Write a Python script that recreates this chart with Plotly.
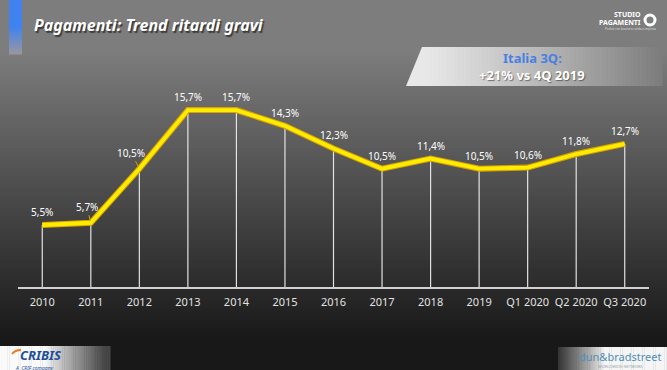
import plotly.graph_objects as go

categories = ["2010", "2011", "2012", "2013", "2014", "2015", "2016", "2017",
              "2018", "2019", "Q1 2020", "Q2 2020", "Q3 2020"]
values = [5.5, 5.7, 10.5, 15.7, 15.7, 14.3, 12.3, 10.5, 11.4, 10.5, 10.6, 11.8, 12.7]
labels = ["5,5%", "5,7%", "10,5%", "15,7%", "15,7%", "14,3%", "12,3%", "10,5%",
          "11,4%", "10,5%", "10,6%", "11,8%", "12,7%"]

W, H = 667, 370
L, R, T, B = 18, 18, 80, 83
PW, PH = W - L - R, H - T - B


def px(x):
    return (x - L) / PW


def py(y):
    return (H - B - y) / PH


def mix(c1, c2, t):
    return "rgb(%d,%d,%d)" % tuple(round(a + (b - a) * t) for a, b in zip(c1, c2))


shapes = []
# background vertical gradient
top_c, bot_c = (125, 125, 125), (24, 24, 24)
step = 4
for y0 in range(0, H, step):
    yc = y0 + step / 2
    t = 0 if yc < 50 else min(1, (yc - 50) / 290)
    shapes.append(dict(type="rect", xref="paper", yref="paper", layer="below",
                       x0=px(-2), x1=px(W + 2), y0=py(y0), y1=py(y0 + step + 0.5),
                       fillcolor=mix(top_c, bot_c, t), line=dict(width=0)))

# blue bar top-left
for y0 in range(0, 54, 2):
    t = 0 if y0 < 26 else min(1, (y0 - 26) / 26)
    shapes.append(dict(type="rect", xref="paper", yref="paper", layer="below",
                       x0=px(9), x1=px(22), y0=py(y0), y1=py(y0 + 2.5),
                       fillcolor=mix((64, 130, 240), (150, 150, 160), t), line=dict(width=0)))

# info box parallelogram with horizontal gradient
bx0, bx1, by0, by1, slant = 422, 662, 47, 86, 16
n = 60
for i in range(n):
    xa = bx0 + (bx1 - bx0) * i / n
    xb = bx0 + (bx1 - bx0) * (i + 1) / n + 0.6
    t = i / (n - 1)
    col = mix((232, 232, 232), (125, 125, 125), t ** 1.1)
    xl = xa - slant if i == 0 else xa
    path = "M %f %f L %f %f L %f %f L %f %f Z" % (
        px(xa), py(by0), px(xb), py(by0), px(xb), py(by1), px(xl), py(by1))
    shapes.append(dict(type="path", xref="paper", yref="paper", layer="below",
                       path=path, fillcolor=col, line=dict(width=0)))

# bottom white bands (logos)
for i in range(60):
    xa = i * 110 / 60
    xb = (i + 1) * 110 / 60 + 0.5
    xc = (xa + xb) / 2
    t = 0 if xc < 45 else min(1, (xc - 45) / 60)
    shapes.append(dict(type="rect", xref="paper", yref="paper", layer="below",
                       x0=px(xa), x1=px(xb), y0=py(346), y1=py(H + 2),
                       fillcolor=mix((250, 250, 250), (70, 70, 70), t ** 0.9), line=dict(width=0)))
for i in range(60):
    xa = 558 + i * 110 / 60
    xb = 558 + (i + 1) * 110 / 60 + 0.5
    xc = (xa + xb) / 2
    t = 0 if xc > 605 else min(1, (605 - xc) / 47)
    shapes.append(dict(type="rect", xref="paper", yref="paper", layer="below",
                       x0=px(xa), x1=px(xb), y0=py(347), y1=py(H + 2),
                       fillcolor=mix((245, 245, 245), (50, 50, 50), t ** 0.9), line=dict(width=0)))

# CRIBIS orange swoosh
shapes.append(dict(type="path", xref="paper", yref="paper",
                   path="M %f %f Q %f %f %f %f" % (px(12), py(354), px(15), py(350), px(21), py(350)),
                   line=dict(color="#f07a20", width=2)))

# Studio Pagamenti ring
shapes.append(dict(type="circle", xref="paper", yref="paper",
                   x0=px(645), x1=px(655), y0=py(15), y1=py(25),
                   line=dict(color="white", width=3)))

# drop lines built from data
drop_x, drop_y = [], []
for c, v in zip(categories, values):
    drop_x += [c, c, None]
    drop_y += [0, v, None]

fig = go.Figure()
fig.add_trace(go.Scatter(x=drop_x, y=drop_y, mode="lines",
                         line=dict(color="rgba(235,235,235,0.95)", width=1.2),
                         hoverinfo="skip", showlegend=False))
fig.add_trace(go.Scatter(x=categories, y=values, mode="lines",
                         line=dict(color="#d9a400", width=6),
                         hoverinfo="skip", showlegend=False))
fig.add_trace(go.Scatter(x=categories, y=values, mode="lines",
                         line=dict(color="#ffec00", width=3.8),
                         showlegend=False))

annotations = []
lab_font = dict(family="Noto Sans", size=10, color="white")
for i, (c, v, lab) in enumerate(zip(categories, values, labels)):
    if c == "2011":
        annotations.append(dict(x=i, y=v, xref="x", yref="y", text=lab, showarrow=True,
                                ax=-4, ay=-16, arrowhead=0, arrowwidth=1,
                                arrowcolor="#d9a400", standoff=2, font=lab_font))
    elif c == "2012":
        annotations.append(dict(x=i, y=v, xref="x", yref="y", text=lab, showarrow=True,
                                ax=-8, ay=-16, arrowhead=0, arrowwidth=1,
                                arrowcolor="#d9a400", standoff=2, font=lab_font))
    else:
        annotations.append(dict(x=i, y=v, xref="x", yref="y", text=lab, showarrow=False,
                                yshift=13, font=lab_font))


def pa(x, y, text, size, color, bold=False, italic=False, family="Noto Sans",
       xanchor="center", shadow=None):
    t = text
    if bold:
        t = "<b>%s</b>" % t
    if italic:
        t = "<i>%s</i>" % t
    font = dict(family=family, size=size, color=color)
    if shadow:
        font["shadow"] = shadow
    return dict(x=px(x), y=py(y), xref="paper", yref="paper", text=t, showarrow=False,
                xanchor=xanchor, yanchor="middle", font=font)


# title
annotations.append(pa(32, 25, "Pagamenti: Trend ritardi gravi", 16, "white",
                      bold=True, italic=True, xanchor="left",
                      shadow="1.5px 1.5px 1px rgba(30,30,30,0.7)"))
# box text
annotations.append(pa(532, 58, "Italia 3Q:", 13, "#4a80e0", bold=True))
annotations.append(pa(532, 75, "+21% vs 4Q 2019", 13, "white", bold=True,
                      shadow="1px 1px 1px rgba(50,50,50,0.6)"))
# studio pagamenti logo
annotations.append(pa(643, 15, "STUDIO", 7, "white", bold=True, xanchor="right"))
annotations.append(pa(643, 22, "PAGAMENTI", 7, "white", bold=True, xanchor="right"))
annotations.append(pa(603, 28.5, "Pocket resi business unibus impresa", 3, "#dddddd", xanchor="left"))
# bottom logos
annotations.append(pa(18, 355, "CRIBIS", 13, "#1d4f9c", bold=True, italic=True, xanchor="left"))
annotations.append(pa(13, 367.5, "A  CRIF company", 5, "#1d4f9c", italic=True, xanchor="left"))
annotations.append(pa(620, 356.5, "dun&amp;bradstreet", 11, "#4f8fb5"))
annotations.append(pa(620, 366.5, "WORLDWIDE NETWORK", 4, "#9aa8b0"))

fig.update_layout(
    width=W, height=H,
    margin=dict(l=L, r=R, t=T, b=B, pad=0),
    paper_bgcolor="#303030",
    plot_bgcolor="rgba(0,0,0,0)",
    shapes=shapes,
    annotations=annotations,
    xaxis=dict(type="category", range=[-0.5, len(categories) - 0.5], showgrid=False,
               showline=True, linecolor="#d0d0d0", linewidth=2, zeroline=False,
               ticks="outside", ticklen=4, tickcolor="rgba(0,0,0,0)",
               tickfont=dict(family="Noto Sans", size=11, color="#e2e2e2"), fixedrange=True),
    yaxis=dict(range=[0, 18.37], showgrid=False, showticklabels=False, zeroline=False,
               showline=False, fixedrange=True),
    showlegend=False,
)

fig.write_html("out.html", config={"displayModeBar": False},
               post_script="document.body.style.margin='0';document.body.style.overflow='hidden';")
